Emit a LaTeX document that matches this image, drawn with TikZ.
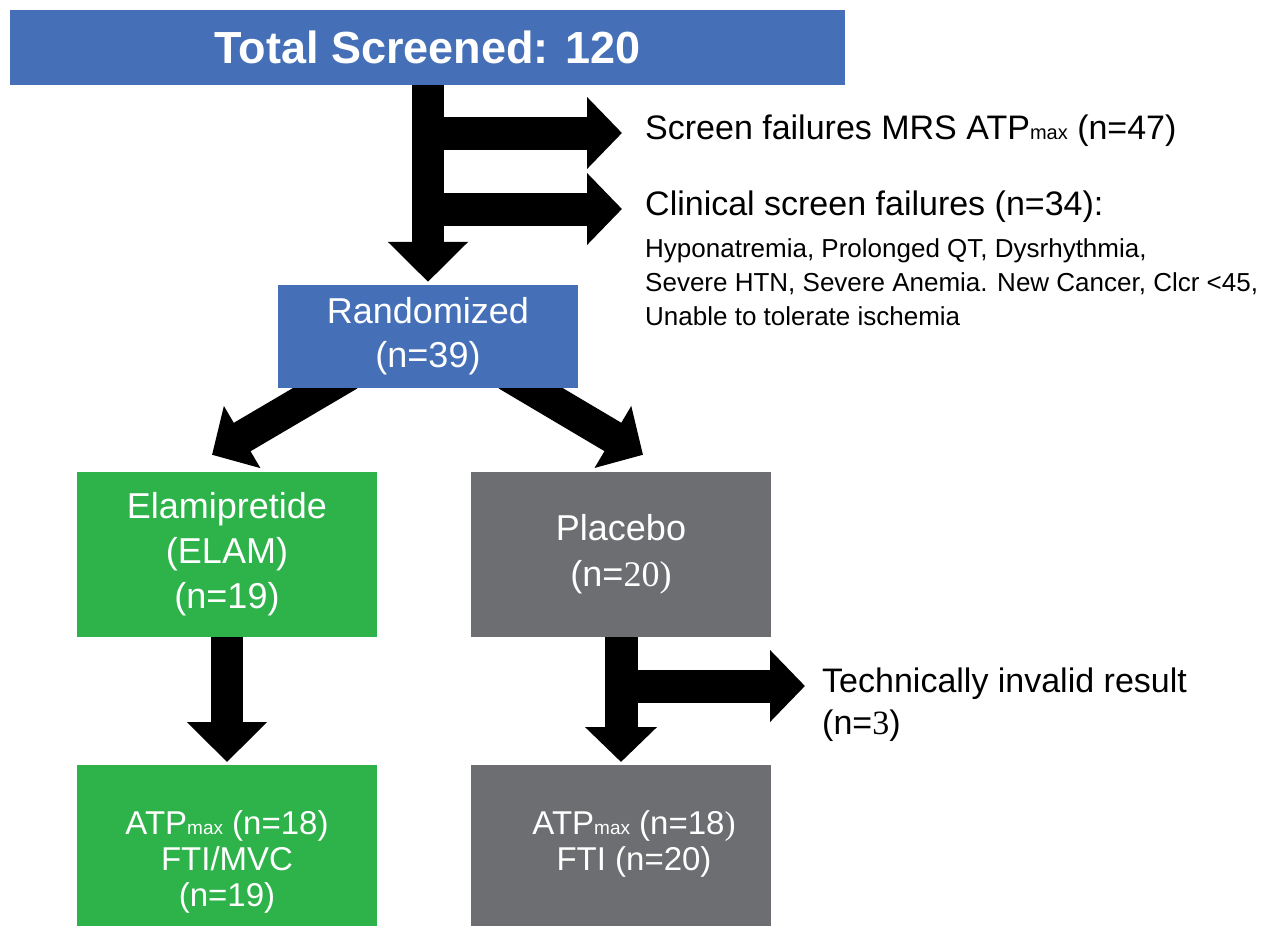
\documentclass[tikz,border=0pt]{standalone}
\usepackage{fontspec}
\setmainfont{Liberation Sans}
\newfontfamily\serif{Liberation Serif}
\usetikzlibrary{arrows.meta,backgrounds}
\definecolor{boxblue}{HTML}{4570B8}
\definecolor{boxgreen}{HTML}{2DB34A}
\definecolor{boxgray}{HTML}{6D6E71}
\newcommand{\atpmax}[1]{ATP{\fontsize{#1}{#1}\selectfont max}}

\tikzset{
	box/.style={rectangle, inner sep=0pt, text=white, align=center, minimum width=300pt},
	boxtext/.style={inner sep=0pt, text=white, align=center},
	note/.style={inner sep=0pt, text=black, font=\fontsize{34}{42}\selectfont},
	bigarrow/.style={line width=32pt, -{Triangle[length=40pt, width=78pt]}},
	sidearrow/.style={line width=33pt, -{Triangle[length=35pt, width=70pt]}}
}

\begin{document}
\begin{tikzpicture}[x=1pt, y=-1pt]
	\useasboundingbox (0,0) rectangle (1280,926);
	\clip (0,0) rectangle (1280,926);
	\node[box, fill=boxblue, minimum width=835pt, minimum height=75pt, font=\fontsize{45}{45}\selectfont\bfseries] (screened) at (427.5,47.5) {Total Screened: 120};
	\node[box, fill=boxblue, minimum height=103pt, font=\fontsize{36}{44}\selectfont] (rand) at (428,336.5) {Randomized\\(n=39)};
	\node[box, fill=boxgreen, minimum height=165pt, font=\fontsize{36}{45}\selectfont] (elam) at (227,554.5) {Elamipretide\\(ELAM)\\(n=19)};
	\node[box, fill=boxgray, minimum height=165pt, font=\fontsize{36}{46}\selectfont] (placebo) at (621,554.5) {Placebo\\(n={\serif 20)}};
	\node[box, fill=boxgreen, minimum height=200pt, anchor=north] (atpE) at (227,765) {};
	\node[box, fill=boxgray, minimum height=200pt, anchor=north] (atpP) at (621,765) {};
	\node[boxtext, font=\fontsize{33}{36}\selectfont] (atpEtext) at (227,862) {\atpmax{19} (n=18)\\FTI/MVC\\(n=19)};
	\node[boxtext, font=\fontsize{33}{36}\selectfont] (atpPtext) at (634,844) {\atpmax{19} (n=18{\serif )}\\FTI (n=20)};

	\node[note, anchor=west] (msfail) at (645,131) {Screen failures MRS \atpmax{20} (n=47)};
	\node[note, anchor=west] (clinfail) at (645,207) {Clinical screen failures (n=34):};
	\node[note, anchor=north west, align=left, font=\fontsize{26}{34}\selectfont] (reasons) at (645,238) {Hyponatremia, Prolonged QT, Dysrhythmia,\\Severe HTN, Severe Anemia. New Cancer, Clcr <45,\\Unable to tolerate ischemia};
	\node[note, anchor=west] (invalid) at (822,684) {Technically invalid result};
	\node[note, anchor=west] (invalidn) at (822,726) {(n={\serif 3})};

	\begin{scope}[on background layer]
		\draw[bigarrow, shorten >=3pt] (screened.south -| rand.north) -- (rand.north);
		\draw[sidearrow, shorten >=23pt] (rand.north |- 0,133) -- (msfail.west |- 0,133);
		\draw[sidearrow, shorten >=23pt] (rand.north |- 0,209) -- (clinfail.west |- 0,209);
		\draw[sidearrow] ([xshift=-79pt,yshift=14pt]rand.south) -- ([xshift=-15pt,yshift=17pt]elam.north);
		\draw[sidearrow] ([xshift=79pt,yshift=14pt]rand.south) -- ([xshift=22pt,yshift=17pt]placebo.north);
		\draw[bigarrow, shorten >=3pt] (elam.south) -- (atpE.north);
		\draw[sidearrow, shorten >=3pt] (placebo.south) -- (atpP.north);
		\draw[sidearrow, shorten >=17pt] (placebo.south |- 0,686) -- (invalid.west |- 0,686);
	\end{scope}
\end{tikzpicture}
\end{document}
